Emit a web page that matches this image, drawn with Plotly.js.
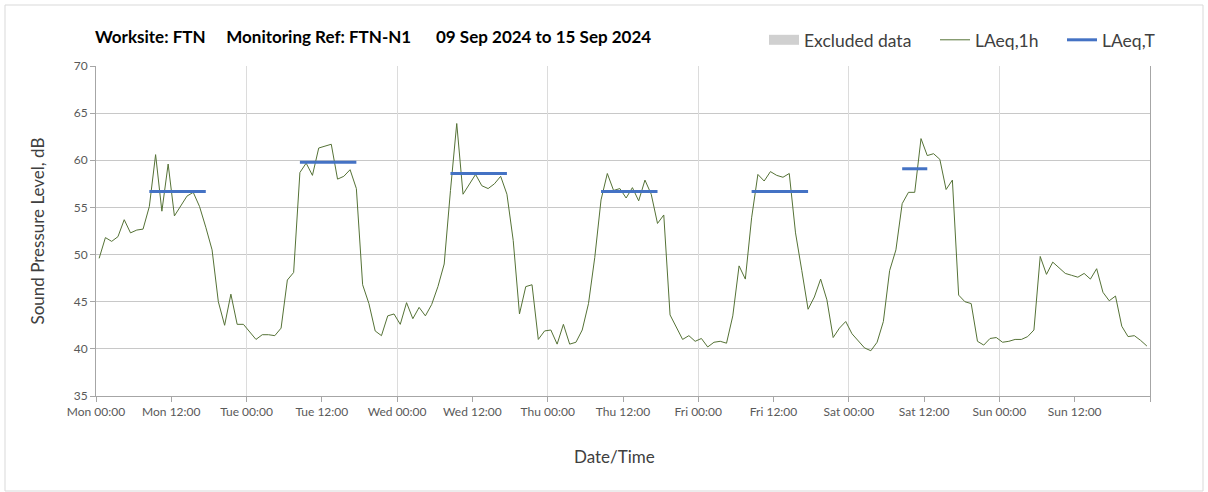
<!DOCTYPE html>
<html>
<head>
<meta charset="utf-8">
<script src="https://cdn.plot.ly/plotly-3.0.1.min.js"></script>
<style>
body { margin: 0; background: #fff; }
#myGraph { width: 1208px; height: 492px; }
</style>
</head>
<body>
<div id="myGraph"></div>
<script>
// hourly LAeq,1h values, one array per day (00:00 .. 23:00)
let mon = [49.6, 51.8, 51.4, 51.9, 53.7, 52.3, 52.6, 52.7, 55.1, 60.6, 54.6, 59.6, 54.1, 55.1, 56.2, 56.6, 55.1, 52.9, 50.5, 45.0, 42.5, 45.8, 42.6, 42.6];
let tue = [41.8, 41.0, 41.5, 41.5, 41.4, 42.2, 47.3, 48.1, 58.7, 59.7, 58.4, 61.3, 61.5, 61.7, 58.0, 58.3, 59.0, 57.0, 46.8, 44.8, 41.9, 41.4, 43.5, 43.7];
let wed = [42.6, 44.9, 43.2, 44.4, 43.5, 44.7, 46.6, 49.0, 56.8, 63.9, 56.4, 57.5, 58.5, 57.3, 57.0, 57.5, 58.3, 56.4, 51.5, 43.7, 46.6, 46.8, 41.0, 41.9];
let thu = [42.0, 40.5, 42.6, 40.5, 40.7, 42.0, 44.8, 49.7, 55.8, 58.6, 56.8, 57.0, 56.0, 57.1, 55.7, 57.9, 56.4, 53.3, 54.2, 43.6, 42.3, 41.0, 41.4, 40.8];
let fri = [41.1, 40.2, 40.7, 40.8, 40.6, 43.5, 48.8, 47.4, 53.9, 58.5, 57.8, 58.8, 58.4, 58.2, 58.6, 52.3, 48.3, 44.2, 45.5, 47.4, 45.2, 41.2, 42.2, 42.9];
let sat = [41.6, 40.8, 40.1, 39.8, 40.7, 42.9, 48.3, 50.5, 55.4, 56.6, 56.6, 62.3, 60.5, 60.7, 60.1, 56.9, 57.9, 45.7, 45.0, 44.8, 40.8, 40.4, 41.1, 41.2];
let sun = [40.7, 40.8, 41.0, 41.0, 41.3, 42.0, 49.8, 47.9, 49.2, 48.6, 48.0, 47.8, 47.6, 48.0, 47.4, 48.5, 46.0, 45.1, 45.6, 42.4, 41.3, 41.4, 40.9, 40.3];
let days = [mon, tue, wed, thu, fri, sat, sun];

// LAeq,T for each daytime period (day index, first hour, last hour, level)
let periodDay = [0, 1, 2, 3, 4, 5];
let periodStart = [8, 8, 8, 8, 8, 8];
let periodEnd = [17, 17, 17, 17, 17, 12];
let periodLevel = [56.7, 59.8, 58.6, 56.7, 56.7, 59.1];

// nothing was excluded this week (one empty slot keeps the legend entry)
let excludedHours = [null];
let excludedLevels = [null];

let tickLabels = ['Mon 00:00', 'Mon 12:00', 'Tue 00:00', 'Tue 12:00', 'Wed 00:00', 'Wed 12:00', 'Thu 00:00',
    'Thu 12:00', 'Fri 00:00', 'Fri 12:00', 'Sat 00:00', 'Sat 12:00', 'Sun 00:00', 'Sun 12:00', ''];

let myGraph = document.getElementById('myGraph');
let textColor = '#404040';

// excluded data: thick grey band in the legend
let trace0 = {
    type: 'scatter',
    mode: 'lines',
    name: 'Excluded data',
    x: excludedHours,
    y: excludedLevels,
    xaxis: 'x2',
    legend: 'legend',
    line: {color: '#d0d0d0', width: 12}
};

let trace1 = {
    type: 'scatter',
    mode: 'lines',
    name: 'LAeq,1h',
    x: [],
    y: [],
    legend: 'legend2',
    line: {color: '#557236', width: 1}
};
for (let d = 0; d < days.length; d++) {
    for (let h = 0; h < days[d].length; h++) {
        trace1.x.push(d * 24 + h + 0.5); // plotted at the middle of the hour
        trace1.y.push(days[d][h]);
    }
}

let trace2 = {
    type: 'scatter',
    mode: 'lines',
    name: 'LAeq,T',
    x: [],
    y: [],
    legend: 'legend3',
    line: {color: '#4472c4', width: 3}
};
for (let i = 0; i < periodDay.length; i++) {
    trace2.x.push(periodDay[i] * 24 + periodStart[i] + 0.5, periodDay[i] * 24 + periodEnd[i] + 0.5, null);
    trace2.y.push(periodLevel[i], periodLevel[i], null);
}

let tickVals = [];
for (let i = 0; i < tickLabels.length; i++) tickVals.push(i * 12);

// one legend box per entry so the gaps match the original
function legendAt(px) {
    return {
        x: (px - 96) / 1054,
        xanchor: 'left',
        y: 1.079,
        yanchor: 'middle',
        font: {size: 17.5, color: textColor},
        bgcolor: 'rgba(0,0,0,0)',
        borderwidth: 0
    };
}

let layout = {
    width: 1208,
    height: 492,
    margin: {l: 96, r: 58, t: 66, b: 96},
    paper_bgcolor: '#fff',
    plot_bgcolor: '#fff',
    font: {family: 'Lato, sans-serif', color: textColor},
    showlegend: true,
    title: {
        text: '<b>Worksite: FTN\u00a0\u00a0\u00a0\u00a0 Monitoring Ref: FTN-N1\u00a0\u00a0\u00a0\u00a0\u00a0 09 Sep 2024 to 15 Sep 2024</b>',
        font: {family: 'Lato, sans-serif', size: 17, color: '#000'},
        x: 95 / 1208,
        xanchor: 'left',
        y: 1 - 37 / 492,
        yanchor: 'middle'
    },
    legend: legendAt(764),
    legend2: legendAt(935),
    legend3: legendAt(1062),
    xaxis: {
        range: [0, 168],
        tickmode: 'array',
        tickvals: tickVals,
        ticktext: tickLabels,
        ticks: 'outside',
        ticklen: 5,
        tickcolor: '#a6a6a6',
        tickfont: {size: 12, color: '#595959'},
        showgrid: false,
        zeroline: false,
        showline: true,
        linecolor: '#a6a6a6'
    },
    xaxis2: {
        overlaying: 'x',
        anchor: 'y',
        range: [0, 168],
        dtick: 24,
        tick0: 0,
        showgrid: true,
        gridcolor: '#dcdcdc',
        showticklabels: false,
        ticks: '',
        zeroline: false,
        showline: false
    },
    yaxis: {
        range: [35, 70],
        dtick: 5,
        ticks: 'outside',
        ticklen: 5,
        tickcolor: '#a6a6a6',
        tickfont: {size: 12, color: '#595959'},
        gridcolor: '#c8c8c8',
        zeroline: false,
        showline: true,
        mirror: true,
        linecolor: '#a6a6a6',
        title: {text: 'Sound Pressure Level, dB', font: {size: 17, color: textColor}, standoff: 24}
    },
    annotations: [{
        text: 'Date/Time',
        xref: 'paper',
        yref: 'paper',
        x: (614 - 96) / 1054,
        y: -(456 - 396) / 330,
        xanchor: 'center',
        yanchor: 'middle',
        showarrow: false,
        font: {size: 17, color: textColor}
    }],
    shapes: [{
        type: 'rect',
        xref: 'paper',
        yref: 'paper',
        x0: (5 - 96) / 1054,
        x1: (1203 - 96) / 1054,
        y0: -(491 - 396) / 330,
        y1: 1 + (66 - 5) / 330,
        line: {color: '#d9d9d9', width: 1},
        layer: 'below'
    }]
};

Plotly.newPlot(myGraph, [trace0, trace1, trace2], layout, {displayModeBar: false, staticPlot: true});
</script>
</body>
</html>
